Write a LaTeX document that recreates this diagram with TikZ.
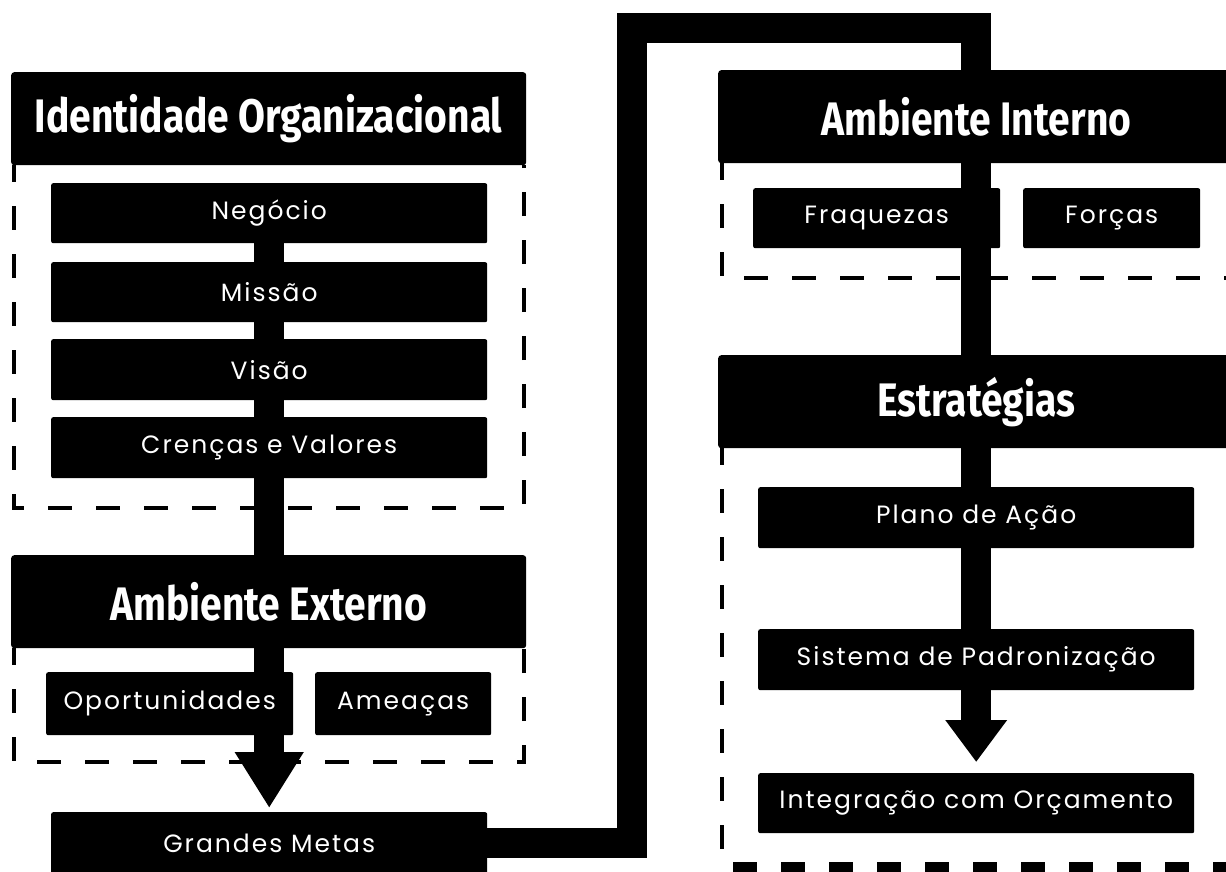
\documentclass[tikz,border=0pt]{standalone}
\usepackage{fontspec}
\newfontfamily\titlefont{Fira Sans}[FakeStretch=0.83]
\newfontfamily\bodyfont{Poppins}[LetterSpace=8]
\usetikzlibrary{arrows.meta}
\pgfdeclarelayer{bg}
\pgfsetlayers{bg,main}
\begin{document}
\begin{tikzpicture}[x=1pt,y=-1pt,
  titlebox/.style={fill=black, rounded corners=3pt, anchor=north west, text=white, inner sep=0pt,
    font=\titlefont\bfseries\fontsize{47}{50}\selectfont, minimum height=93pt},
  itembox/.style={fill=black, rounded corners=2pt, anchor=north west, text=white, inner sep=0pt,
    font=\bodyfont\fontsize{25}{28}\selectfont},
  frameline/.style={line width=4pt, dash pattern=on 24pt off 24pt, dash phase=7pt},
  bar/.style={line width=30pt, line join=miter}]
\useasboundingbox (0,0) rectangle (1226,871);

% left column
\node[titlebox, minimum width=515pt] (io) at (11,72) {Identidade Organizacional};
\node[itembox, minimum width=436pt, minimum height=60pt] (neg) at (51,183) {Negócio};
\node[itembox, minimum width=436pt, minimum height=60pt] (mis) at (51,262) {Missão};
\node[itembox, minimum width=436pt, minimum height=61pt] (vis) at (51,339) {Visão};
\node[itembox, minimum width=436pt, minimum height=61pt] (cre) at (51,417) {Crenças e Valores};
\node[titlebox, minimum width=515pt] (ae) at (11,555) {Ambiente Externo};
\node[itembox, minimum width=247pt, minimum height=63pt] (op) at (46,672) {Oportunidades};
\node[itembox, minimum width=176pt, minimum height=63pt] (am) at (315,672) {Ameaças};
\node[itembox, minimum width=436pt, minimum height=62pt] (gm) at (51,812) {Grandes Metas};

% right column
\node[titlebox, minimum width=516pt] (ai) at (718,70) {Ambiente Interno};
\node[itembox, minimum width=247pt, minimum height=60pt] (fr) at (753,188) {Fraquezas};
\node[itembox, minimum width=177pt, minimum height=60pt] (fo) at (1023,188) {Forças};
\node[titlebox, minimum width=516pt] (es) at (718,355) {Estratégias};
\node[itembox, minimum width=436pt, minimum height=61pt] (pa) at (758,487) {Plano de Ação};
\node[itembox, minimum width=436pt, minimum height=61pt] (si) at (758,629) {Sistema de Padronização};
\node[itembox, minimum width=436pt, minimum height=60pt] (ig) at (758,773) {Integração com Orçamento};

\coordinate (bend) at (632,28);

\begin{pgfonlayer}{bg}
  % dashed frames
  \draw[frameline] (14,165) -- (14,508) -- (524,508) -- (524,165);
  \draw[frameline] (14,648) -- (14,762) -- (524,762) -- (524,648);
  \draw[frameline] (722,163) -- (722,278) -- (1240,278);
  \draw[frameline] (722,448) -- (722,867);
  \draw[frameline, line width=10pt, dash phase=0pt] (733,867) -- (1240,867);
  % connectors
  \draw[bar, -{Triangle[width=65pt,length=56pt]}, shorten >=4pt] (neg) -- (gm);
  \draw[bar, -{Triangle[width=59pt,length=42pt]}, shorten >=11pt] (gm.east) -| (bend) -| (ig.north);
\end{pgfonlayer}
\end{tikzpicture}
\end{document}
